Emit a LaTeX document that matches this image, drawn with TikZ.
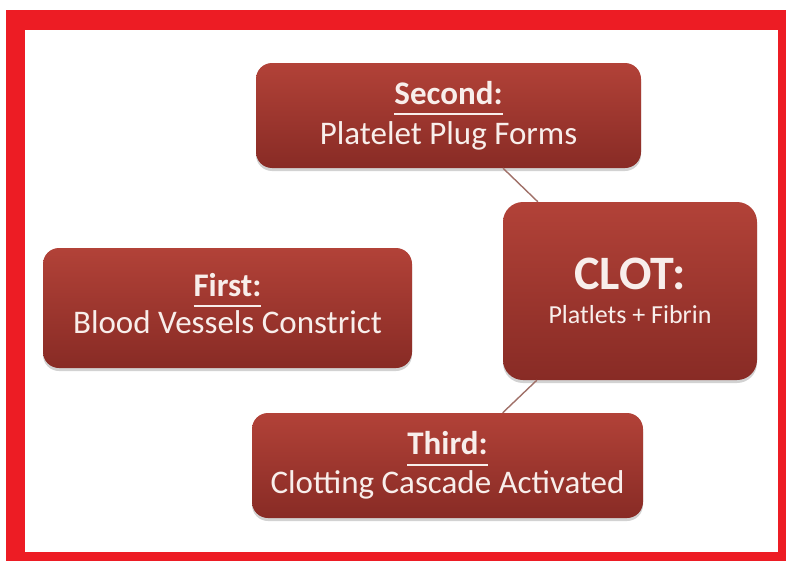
\documentclass[tikz,border=0pt]{standalone}
\usepackage{fontspec}
\setmainfont{Carlito}
\usetikzlibrary{shadows}
\definecolor{framered}{RGB}{237,28,36}
\definecolor{boxtop}{RGB}{178,66,56}
\definecolor{boxbot}{RGB}{136,43,37}
\definecolor{linkcol}{RGB}{160,112,104}
\definecolor{txtcol}{RGB}{248,238,235}
\newcommand\ulword[1]{\setbox0\hbox{#1}\rlap{\rule[-11pt]{\wd0}{2pt}}\box0}
\tikzset{
  stagebox/.style={rounded corners=16pt, top color=boxtop, bottom color=boxbot,
    draw=none, text=txtcol, align=center, inner sep=0pt,
    drop shadow={opacity=0.35, shadow xshift=0pt, shadow yshift=-3pt},
    font=\fontsize{33}{40}\selectfont},
  link/.style={draw=linkcol, line width=1.4pt}
}
\begin{document}
\begin{tikzpicture}[x=1pt,y=-1pt]
\useasboundingbox (0,0) rectangle (787,562);
\fill[white] (0,0) rectangle (787,562);
\fill[framered] (6,10) rectangle (786,561);
\fill[white] (25,30) rectangle (778,552);
\node[stagebox, minimum width=385pt, minimum height=105pt] (second) at (448.5,115.5)
  {\ulword{\bfseries Second:}\\Platelet Plug Forms};
\node[stagebox, minimum width=369pt, minimum height=120pt, font=\fontsize{33}{37}\selectfont] (first) at (227.5,308)
  {\ulword{\bfseries First:}\\Blood Vessels Constrict\\[-38pt]\strut};
\node[stagebox, minimum width=391pt, minimum height=105pt, font=\fontsize{33}{39}\selectfont] (third) at (447.5,465.5)
  {\ulword{\bfseries Third:}\\Clotting Cascade Activated};
\node[stagebox, minimum width=254pt, minimum height=178pt, rounded corners=20pt] (clot) at (630,291)
  {{\fontsize{48}{48}\selectfont\bfseries CLOT:}\\[-6pt]{\fontsize{26}{30}\selectfont Platlets + Fibrin}};
\path[link] (second) -- (clot);
\path[link] (third) -- (clot);
\end{tikzpicture}
\end{document}
